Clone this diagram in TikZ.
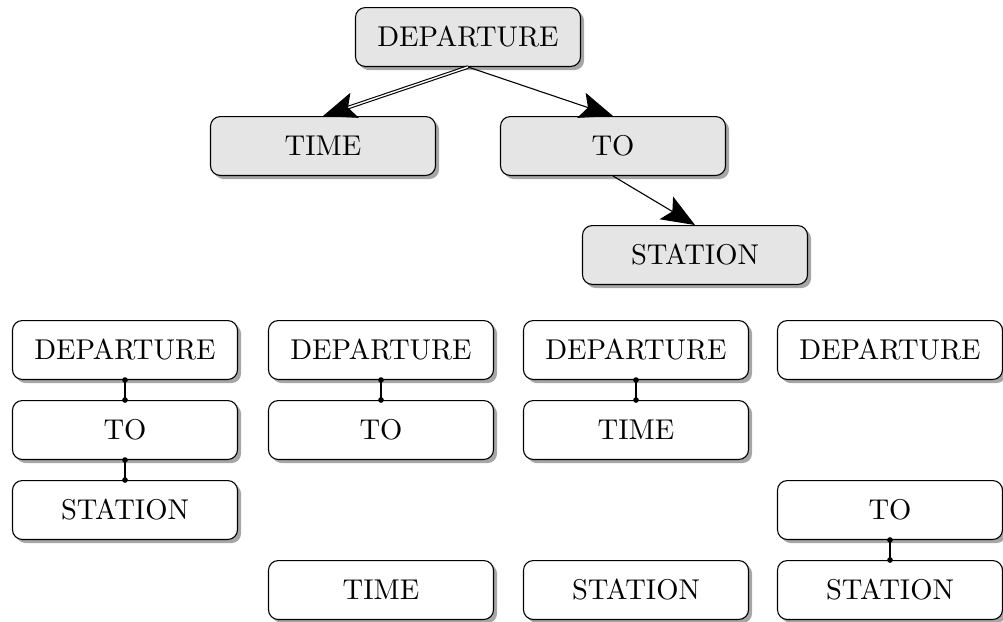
\documentclass[tikz,border=0pt]{standalone}
\usetikzlibrary{arrows.meta,shadows}
\begin{document}
\begin{tikzpicture}[x=0.36pt,y=-0.36pt,
  box/.style={draw, rounded corners=3.5pt, minimum width=81pt, minimum height=21.2pt, inner sep=0pt, fill=white,
    font=\fontsize{10.3}{12}\selectfont,
    drop shadow={shadow xshift=1.3pt, shadow yshift=-1.3pt, opacity=0.7}},
  topbox/.style={box, fill=black!10},
  arr/.style={-{Stealth[length=12pt,width=9.5pt,inset=2.5pt]}},
  link/.style={{Circle[length=2pt]}-{Circle[length=2pt]}, shorten <=-1pt, shorten >=-1pt}]
\useasboundingbox (0,0) rectangle (1003,621);
% top tree
\node[topbox] (dep) at (468,37) {DEPARTURE};
\node[topbox] (time) at (323,146) {TIME};
\node[topbox] (to) at (613,146) {TO};
\node[topbox] (sta) at (695,255) {STATION};
\draw[arr, double, double distance=0.5pt] (dep.south) -- (time.north);
\draw[arr] (dep.south) -- (to.north);
\draw[arr] (to.south) -- (sta.north);
% column 1
\node[box] (a1) at (125,350) {DEPARTURE};
\node[box] (a2) at (125,430) {TO};
\node[box] (a3) at (125,510) {STATION};
\draw[link] (a1.south) -- (a2.north);
\draw[link] (a2.south) -- (a3.north);
% column 2
\node[box] (b1) at (381,350) {DEPARTURE};
\node[box] (b2) at (381,430) {TO};
\node[box] (b4) at (381,590) {TIME};
\draw[link] (b1.south) -- (b2.north);
% column 3
\node[box] (c1) at (636,350) {DEPARTURE};
\node[box] (c2) at (636,430) {TIME};
\node[box] (c4) at (636,590) {STATION};
\draw[link] (c1.south) -- (c2.north);
% column 4
\node[box] (d1) at (890,350) {DEPARTURE};
\node[box] (d3) at (890,510) {TO};
\node[box] (d4) at (890,590) {STATION};
\draw[link] (d3.south) -- (d4.north);
\end{tikzpicture}
\end{document}
